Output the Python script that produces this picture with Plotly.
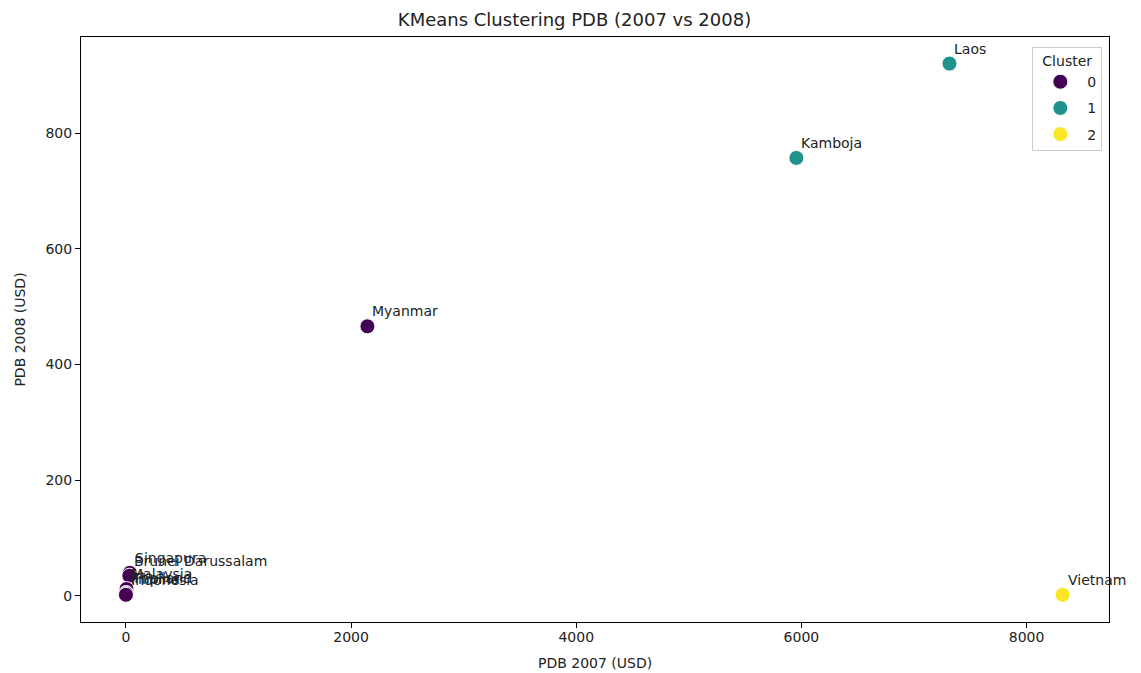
import plotly.graph_objects as go

countries = ["Singapura", "Brunei Darussalam", "Malaysia", "Thailand", "Filipina", "Indonesia",
             "Myanmar", "Kamboja", "Laos", "Vietnam"]
pdb_2007 = [35, 30, 5, 2, 1, 0, 2145, 5955, 7315, 8320]
pdb_2008 = [40, 35, 12, 5, 4, 2, 466, 757, 920, 2]
clusters = [0, 0, 0, 0, 0, 0, 0, 1, 1, 2]
cluster_colors = {0: "#440154", 1: "#21918c", 2: "#fde725"}

fig = go.Figure()
for c in [0, 1, 2]:
    xs = [x for x, k in zip(pdb_2007, clusters) if k == c]
    ys = [y for y, k in zip(pdb_2008, clusters) if k == c]
    fig.add_trace(go.Scatter(
        x=xs, y=ys, mode="markers", name=str(c), legendgroup=str(c),
        marker=dict(size=15, color=cluster_colors[c], line=dict(color="white", width=1)),
    ))

for name, x, y in zip(countries, pdb_2007, pdb_2008):
    fig.add_annotation(x=x, y=y, text=name, showarrow=False, xanchor="left", yanchor="bottom",
                       xshift=3, yshift=5, font=dict(size=14, color="#222222", family="DejaVu Sans"))

# x-axis title placed below the tick labels
fig.add_annotation(x=0.5, y=0, xref="paper", yref="paper", text="PDB 2007 (USD)", showarrow=False,
                   xanchor="center", yanchor="middle", yshift=-41,
                   font=dict(size=14, color="#222222", family="DejaVu Sans"))

axis_common = dict(showline=True, linecolor="black", linewidth=1, mirror=True, showgrid=False,
                   zeroline=False, ticks="outside", ticklen=5, tickcolor="black",
                   tickfont=dict(size=14, color="#222222"))
fig.update_layout(
    width=1133, height=665,
    margin=dict(l=71, r=32, t=29, b=51),
    paper_bgcolor="white", plot_bgcolor="white",
    font=dict(family="DejaVu Sans", color="#222222"),
    title=dict(text="KMeans Clustering PDB (2007 vs 2008)", x=0.5, xanchor="center",
               y=0.983, yanchor="middle", font=dict(size=18, color="#222222")),
    xaxis=dict(range=[-399, 8732], tickvals=[0, 2000, 4000, 6000, 8000],
               ticklabelstandoff=-3, automargin=False, **axis_common),
    yaxis=dict(title=dict(text="PDB 2008 (USD)", font=dict(size=14), standoff=16),
               range=[-45, 966], tickvals=[0, 200, 400, 600, 800], **axis_common),
    legend=dict(title=dict(text="Cluster", side="top center", font=dict(size=14)),
                x=0.9935, y=0.983, xanchor="right", yanchor="top",
                bgcolor="rgba(255,255,255,0.8)", bordercolor="#cccccc", borderwidth=1,
                font=dict(size=14), itemwidth=44, tracegroupgap=5),
)
fig.write_html("out.html")
